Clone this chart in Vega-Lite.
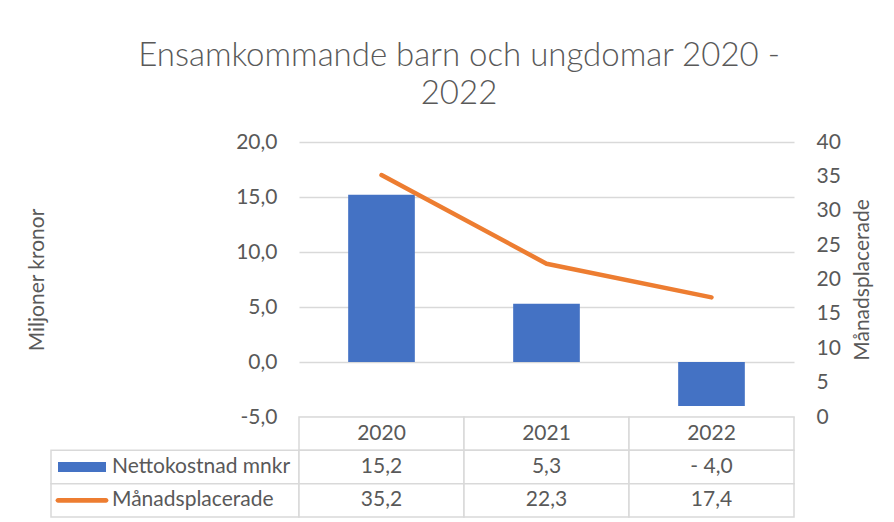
{
  "$schema": "https://vega.github.io/schema/vega-lite/v6.json",
  "background": "white",
  "padding": {"left": 26, "top": 40, "right": 20, "bottom": 5},
  "config": {
    "font": "Lato",
    "view": {"stroke": null},
    "locale": {"number": {"decimal": ",", "thousands": " ", "grouping": [3], "currency": ["", " kr"], "minus": "- "}},
    "axis": {"labelFont": "Lato", "titleFont": "Lato", "labelColor": "#595959", "titleColor": "#595959", "labelFontSize": 21, "titleFontSize": 21, "titleFontWeight": "normal"}
  },
  "datasets": {
    "kostnad": [
      {"year": "2020", "Nettokostnad mnkr": 15.2, "Månadsplacerade": 35.2},
      {"year": "2021", "Nettokostnad mnkr": 5.3, "Månadsplacerade": 22.3},
      {"year": "2022", "Nettokostnad mnkr": -4.0, "Månadsplacerade": 17.4}
    ]
  },
  "title": {
    "text": ["Ensamkommande  barn och ungdomar 2020 -", "2022"],
    "font": "Lato",
    "fontSize": 33,
    "fontWeight": 300,
    "color": "#595959",
    "lineHeight": 38,
    "anchor": "middle",
    "dx": 10,
    "offset": 20
  },
  "columns": 2,
  "spacing": 0,
  "bounds": "flush",
  "concat": [
    {
      "width": 248,
      "height": 275,
      "data": {"values": [{}]},
      "mark": {"type": "text", "text": ""}
    },
    {
      "width": 495,
      "height": 275,
      "data": {"name": "kostnad"},
      "encoding": {
        "x": {"field": "year", "type": "nominal", "axis": null, "scale": {"paddingInner": 0.596, "paddingOuter": 0.298}}
      },
      "layer": [
        {
          "mark": {"type": "bar", "color": "#4472C4"},
          "encoding": {
            "y": {
              "field": "Nettokostnad mnkr", "type": "quantitative",
              "scale": {"domain": [-5, 20], "nice": false},
              "axis": {
                "title": "Miljoner kronor",
                "values": [-5, 0, 5, 10, 15, 20],
                "format": ".1f",
                "labelExpr": "replace(datum.label, '- ', '-')",
                "grid": true, "gridColor": "#D9D9D9", "gridWidth": 1.5,
                "domain": false, "ticks": false,
                "labelPadding": 22, "minExtent": 65, "maxExtent": 65, "titlePadding": 187
              }
            }
          }
        },
        {
          "mark": {"type": "line", "color": "#ED7D31", "strokeWidth": 4.5, "strokeCap": "round", "strokeJoin": "round"},
          "encoding": {
            "y": {
              "field": "Månadsplacerade", "type": "quantitative",
              "scale": {"domain": [0, 40], "nice": false},
              "axis": {
                "orient": "right",
                "title": "Månadsplacerade",
                "values": [0, 5, 10, 15, 20, 25, 30, 35, 40],
                "format": "d",
                "grid": false, "domain": false, "ticks": false,
                "labelPadding": 22, "minExtent": 42, "maxExtent": 42, "titlePadding": 36,
                "titleAngle": 270
              }
            }
          }
        }
      ],
      "resolve": {"scale": {"y": "independent"}}
    },
    {
      "width": 248,
      "height": 100,
      "data": {"name": "kostnad"},
      "transform": [
        {"fold": ["Nettokostnad mnkr", "Månadsplacerade"]},
        {"aggregate": [{"op": "count", "as": "n"}], "groupby": ["key"]}
      ],
      "encoding": {
        "y": {"field": "key", "type": "nominal", "axis": null,
          "scale": {"domain": ["header", "Nettokostnad mnkr", "Månadsplacerade"], "paddingInner": 0, "paddingOuter": 0}}
      },
      "layer": [
        {"mark": {"type": "rect", "fill": "white", "stroke": "#D9D9D9", "strokeWidth": 1.5}},
        {
          "mark": {"type": "point", "filled": true, "opacity": 1, "size": 4},
          "encoding": {
            "x": {"datum": "swatch", "type": "nominal", "axis": null, "scale": {"type": "point", "domain": ["swatch", "label"], "range": [31, 61], "padding": 0}},
            "shape": {"field": "key", "type": "nominal", "legend": null,
              "scale": {"domain": ["Nettokostnad mnkr", "Månadsplacerade"], "range": ["M-24,-5H24V5H-24Z", "M-24,-2.4H24A2.4,2.4 0 0 1 24,2.4H-24A2.4,2.4 0 0 1 -24,-2.4Z"]}},
            "color": {"field": "key", "type": "nominal", "legend": null,
              "scale": {"domain": ["Nettokostnad mnkr", "Månadsplacerade"], "range": ["#4472C4", "#ED7D31"]}}
          }
        },
        {
          "mark": {"type": "text", "align": "left", "baseline": "middle", "fontSize": 21, "color": "#595959"},
          "encoding": {
            "x": {"datum": "label", "type": "nominal", "axis": null, "scale": {"type": "point", "domain": ["swatch", "label"], "range": [31, 61], "padding": 0}},
            "text": {"field": "key"}
          }
        }
      ]
    },
    {
      "width": 495,
      "height": 100,
      "data": {"name": "kostnad"},
      "encoding": {
        "x": {"field": "year", "type": "nominal", "axis": null, "scale": {"paddingInner": 0, "paddingOuter": 0}}
      },
      "layer": [
        {
          "mark": {"type": "rect", "fill": "white", "stroke": "#D9D9D9", "strokeWidth": 1.5},
          "encoding": {"y": {"datum": "header", "type": "nominal", "axis": null,
            "scale": {"domain": ["header", "Nettokostnad mnkr", "Månadsplacerade"], "paddingInner": 0, "paddingOuter": 0}}}
        },
        {
          "mark": {"type": "text", "baseline": "middle", "fontSize": 21, "color": "#595959"},
          "encoding": {
            "y": {"datum": "header", "type": "nominal", "axis": null,
              "scale": {"domain": ["header", "Nettokostnad mnkr", "Månadsplacerade"], "paddingInner": 0, "paddingOuter": 0}},
            "text": {"field": "year"}
          }
        },
        {
          "transform": [{"fold": ["Nettokostnad mnkr", "Månadsplacerade"]}],
          "layer": [
            {
              "mark": {"type": "rect", "fill": "white", "stroke": "#D9D9D9", "strokeWidth": 1.5},
              "encoding": {"y": {"field": "key", "type": "nominal", "axis": null,
                "scale": {"domain": ["header", "Nettokostnad mnkr", "Månadsplacerade"], "paddingInner": 0, "paddingOuter": 0}}}
            },
            {
              "mark": {"type": "text", "baseline": "middle", "fontSize": 21, "color": "#595959"},
              "encoding": {
                "y": {"field": "key", "type": "nominal", "axis": null,
                  "scale": {"domain": ["header", "Nettokostnad mnkr", "Månadsplacerade"], "paddingInner": 0, "paddingOuter": 0}},
                "text": {"field": "value", "type": "quantitative", "format": ".1f"}
              }
            }
          ]
        }
      ]
    }
  ]
}
